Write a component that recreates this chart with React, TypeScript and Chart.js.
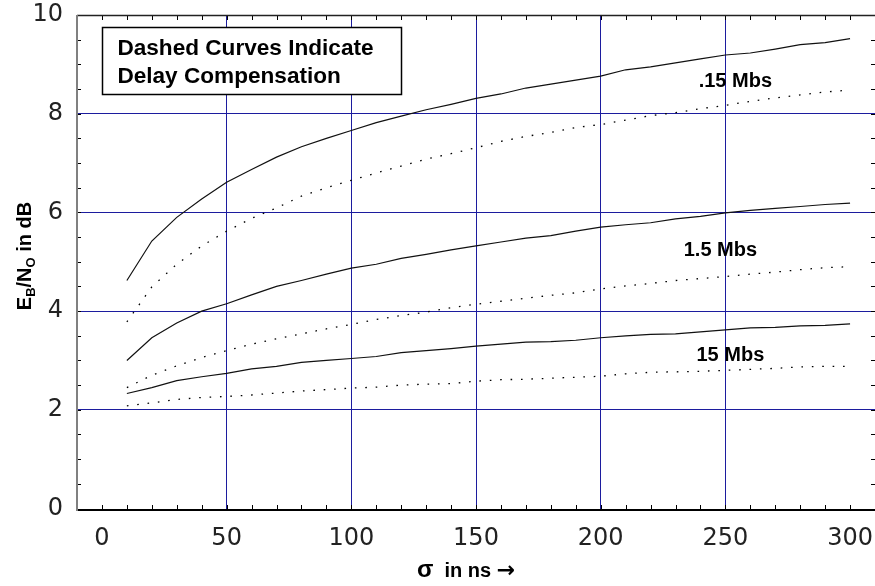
import React, { useEffect, useRef } from 'react';
import { Chart, registerables } from 'chart.js';

Chart.register(...registerables);

// delay spread sigma (ns)
const sigmaNs = [10, 20, 30, 40, 50, 60, 70, 80, 90, 100, 110, 120, 130, 140, 150, 160, 170, 180, 190, 200, 210, 220, 230, 240, 250, 260, 270, 280, 290, 300];

// required Eb/No (dB) at each data rate, without and with delay compensation
const ebno015Plain = [4.62, 5.42, 5.9, 6.27, 6.61, 6.87, 7.12, 7.33, 7.5, 7.66, 7.82, 7.95, 8.08, 8.19, 8.31, 8.4, 8.52, 8.6, 8.68, 8.76, 8.89, 8.95, 9.03, 9.11, 9.19, 9.23, 9.31, 9.4, 9.44, 9.52];
const ebno015Comp = [3.78, 4.49, 4.95, 5.32, 5.62, 5.88, 6.09, 6.33, 6.5, 6.65, 6.8, 6.94, 7.08, 7.19, 7.31, 7.44, 7.54, 7.62, 7.72, 7.78, 7.87, 7.96, 8.02, 8.1, 8.17, 8.25, 8.32, 8.38, 8.44, 8.48];
const ebno15Plain = [3.0, 3.46, 3.76, 4.0, 4.15, 4.33, 4.5, 4.62, 4.75, 4.87, 4.95, 5.07, 5.15, 5.24, 5.32, 5.4, 5.48, 5.53, 5.62, 5.7, 5.75, 5.79, 5.87, 5.92, 5.99, 6.04, 6.08, 6.12, 6.16, 6.19];
const ebno15Comp = [2.45, 2.7, 2.89, 3.06, 3.2, 3.33, 3.44, 3.54, 3.64, 3.73, 3.83, 3.91, 3.98, 4.07, 4.14, 4.2, 4.26, 4.32, 4.37, 4.45, 4.51, 4.56, 4.62, 4.66, 4.7, 4.75, 4.79, 4.84, 4.88, 4.9];
const ebno150Plain = [2.33, 2.45, 2.59, 2.67, 2.74, 2.83, 2.88, 2.96, 3.0, 3.04, 3.08, 3.16, 3.2, 3.24, 3.29, 3.33, 3.37, 3.38, 3.41, 3.46, 3.5, 3.53, 3.54, 3.58, 3.62, 3.66, 3.67, 3.7, 3.71, 3.74];
const ebno150Comp = [2.08, 2.14, 2.21, 2.25, 2.27, 2.3, 2.34, 2.38, 2.41, 2.44, 2.46, 2.5, 2.52, 2.53, 2.58, 2.61, 2.62, 2.64, 2.66, 2.68, 2.73, 2.76, 2.77, 2.78, 2.8, 2.82, 2.84, 2.87, 2.88, 2.88];

const xTickValues = [0, 50, 100, 150, 200, 250, 300];
const yTickValues = [0, 2, 4, 6, 8, 10];
const rateLabels = ['.15 Mbs', '1.5 Mbs', '15 Mbs'];
const noteLines = ['Dashed Curves Indicate', 'Delay Compensation'];

const SANS = '"Liberation Sans", Arial, Helvetica, sans-serif';
const NAVY = '#1c1c9e';

const toPoints = (ys: number[]) => sigmaNs.map((x, i) => ({ x, y: ys[i] }));

const solid = (ys: number[]) => ({
  data: toPoints(ys),
  borderColor: '#111',
  borderWidth: 1.2,
  pointRadius: 0,
  tension: 0,
  fill: false,
});

const dotted = (ys: number[]) => ({
  data: toPoints(ys),
  borderColor: '#000',
  borderWidth: 1.3,
  borderDash: [1.6, 8.8],
  pointRadius: 0,
  tension: 0,
  fill: false,
});

const noScalePadding = (s: any) => {
  s.paddingTop = 0;
  s.paddingBottom = 0;
  s.paddingLeft = 0;
  s.paddingRight = 0;
};

// frame, inward minor ticks, axis titles and in-plot notes
const decorPlugin = {
  id: 'decor',
  afterDatasetsDraw(chart: any) {
    const { ctx, chartArea: a, scales } = chart;
    const x = scales.x;
    const y = scales.y;
    ctx.save();

    // minor ticks
    ctx.strokeStyle = '#000';
    ctx.lineWidth = 1;
    ctx.beginPath();
    for (let v = 0; v <= 300; v += 10) {
      const px = Math.round(x.getPixelForValue(v)) + 0.5;
      ctx.moveTo(px, a.bottom);
      ctx.lineTo(px, a.bottom - 5);
      ctx.moveTo(px, a.top);
      ctx.lineTo(px, a.top + 5);
    }
    for (let v = 0; v <= 10; v += 0.5) {
      const py = Math.round(y.getPixelForValue(v)) + 0.5;
      ctx.moveTo(a.left, py);
      ctx.lineTo(a.left + 4, py);
      ctx.moveTo(a.right, py);
      ctx.lineTo(a.right - 4, py);
    }
    ctx.stroke();

    // frame
    ctx.lineWidth = 1.5;
    ctx.strokeStyle = '#222';
    ctx.beginPath();
    ctx.moveTo(a.left, a.top + 0.5);
    ctx.lineTo(a.right, a.top + 0.5);
    ctx.stroke();
    ctx.lineWidth = 2;
    ctx.strokeStyle = '#000';
    ctx.beginPath();
    ctx.moveTo(a.left, a.bottom);
    ctx.lineTo(a.right, a.bottom);
    ctx.stroke();
    ctx.strokeStyle = '#808080';
    ctx.beginPath();
    ctx.moveTo(a.left, a.top);
    ctx.lineTo(a.left, a.bottom + 1);
    ctx.stroke();

    // note box
    const bx0 = x.getPixelForValue(0);
    const bx1 = x.getPixelForValue(120);
    const by0 = y.getPixelForValue(9.75);
    const by1 = y.getPixelForValue(8.39);
    ctx.fillStyle = '#fff';
    ctx.fillRect(bx0, by0, bx1 - bx0, by1 - by0);
    ctx.lineWidth = 1.5;
    ctx.strokeStyle = '#000';
    ctx.strokeRect(Math.round(bx0) + 0.5, Math.round(by0) + 0.5, Math.round(bx1 - bx0), Math.round(by1 - by0));
    ctx.fillStyle = '#000';
    ctx.font = `bold 22.6px ${SANS}`;
    ctx.textAlign = 'left';
    ctx.textBaseline = 'alphabetic';
    ctx.fillText(noteLines[0], x.getPixelForValue(6.2), y.getPixelForValue(9.18));
    ctx.fillText(noteLines[1], x.getPixelForValue(6.2), y.getPixelForValue(8.63));

    // data-rate labels
    ctx.font = `bold 20px ${SANS}`;
    ctx.textAlign = 'center';
    ctx.textBaseline = 'middle';
    ctx.fillText(rateLabels[0], x.getPixelForValue(254), y.getPixelForValue(8.65));
    ctx.fillText(rateLabels[1], x.getPixelForValue(248), y.getPixelForValue(5.22));
    ctx.fillText(rateLabels[2], x.getPixelForValue(252), y.getPixelForValue(3.11));

    // x title
    const xt = [
      { t: '\u03C3', f: `bold 24px ${SANS}` },
      { t: '  in ns ', f: `bold 20px ${SANS}` },
      { t: '\u2192', f: `bold 22px "DejaVu Sans", sans-serif` },
    ];
    let xw = 0;
    const xws = xt.map((p) => {
      ctx.font = p.f;
      const w = ctx.measureText(p.t).width;
      xw += w;
      return w;
    });
    ctx.textAlign = 'left';
    ctx.textBaseline = 'alphabetic';
    let tx = 466 - xw / 2;
    xt.forEach((p, i) => {
      ctx.font = p.f;
      ctx.fillText(p.t, tx, 577);
      tx += xws[i];
    });

    // y title with subscripts
    const big = `bold 20px ${SANS}`;
    const small = `bold 13px ${SANS}`;
    const parts = [
      { t: 'E', f: big, dy: 0 },
      { t: 'B', f: small, dy: 4 },
      { t: '/N', f: big, dy: 0 },
      { t: 'O', f: small, dy: 4 },
      { t: ' in dB', f: big, dy: 0 },
    ];
    let total = 0;
    const widths = parts.map((p) => {
      ctx.font = p.f;
      const w = ctx.measureText(p.t).width;
      total += w;
      return w;
    });
    ctx.translate(31, 256);
    ctx.rotate(-Math.PI / 2);
    let cx = -total / 2;
    parts.forEach((p, i) => {
      ctx.font = p.f;
      ctx.fillText(p.t, cx, p.dy);
      cx += widths[i];
    });

    ctx.restore();
  },
};

export default function App() {
  const canvasRef = useRef<HTMLCanvasElement | null>(null);

  useEffect(() => {
    const canvas = canvasRef.current;
    if (!canvas) return;
    const chart = new Chart(canvas, {
      type: 'line',
      data: {
        datasets: [
          solid(ebno015Plain),
          dotted(ebno015Comp),
          solid(ebno15Plain),
          dotted(ebno15Comp),
          solid(ebno150Plain),
          dotted(ebno150Comp),
        ],
      },
      options: {
        animation: false,
        responsive: false,
        devicePixelRatio: 1,
        events: [],
        layout: { autoPadding: false, padding: { top: 15, right: 0, bottom: 0, left: 0 } },
        plugins: { legend: { display: false }, tooltip: { enabled: false }, title: { display: false } },
        scales: {
          x: {
            type: 'linear',
            min: -10,
            max: 310,
            afterBuildTicks: (s: any) => {
              s.ticks = xTickValues.map((value) => ({ value }));
            },
            afterFit: (s: any) => {
              s.height = 76;
              noScalePadding(s);
            },
            border: { display: false },
            grid: {
              drawTicks: false,
              lineWidth: 1,
              color: (c: any) => (c.tick && c.tick.value > 0 && c.tick.value < 300 ? NAVY : 'rgba(0,0,0,0)'),
            },
            ticks: {
              autoSkip: false,
              maxRotation: 0,
              padding: 14,
              color: '#222',
              font: { family: '"DejaVu Sans", sans-serif', size: 24 },
            },
          },
          y: {
            type: 'linear',
            min: -0.03,
            max: 10,
            afterBuildTicks: (s: any) => {
              s.ticks = yTickValues.map((value) => ({ value }));
            },
            afterFit: (s: any) => {
              s.width = 77;
              noScalePadding(s);
            },
            border: { display: false },
            grid: {
              drawTicks: false,
              lineWidth: 1,
              color: (c: any) => (c.tick && c.tick.value > 0 && c.tick.value < 10 ? NAVY : 'rgba(0,0,0,0)'),
            },
            ticks: {
              padding: 14,
              color: '#222',
              font: { family: '"DejaVu Sans", sans-serif', size: 24 },
            },
          },
        },
      },
      plugins: [decorPlugin],
    });
    return () => chart.destroy();
  }, []);

  return (
    <div style={{ position: 'fixed', left: 0, top: 0, width: 875, height: 586, background: '#fff' }}>
      <canvas ref={canvasRef} width={875} height={586} style={{ display: 'block' }} />
    </div>
  );
}
